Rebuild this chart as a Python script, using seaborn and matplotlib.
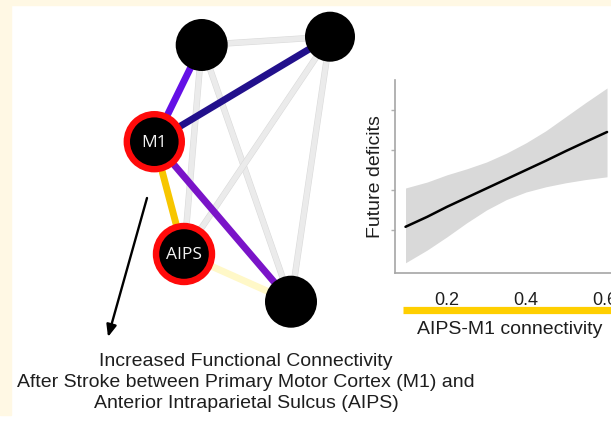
import matplotlib
matplotlib.use("Agg")
import matplotlib.pyplot as plt
import matplotlib.patheffects as pe
from matplotlib.patches import Circle, Rectangle
import seaborn as sns
import pandas as pd

# ---------------- data ----------------
conn = [0.095, 0.15, 0.2, 0.25, 0.3, 0.35, 0.4, 0.45, 0.5, 0.55, 0.605]
fit = [1.08, 1.33, 1.58, 1.81, 2.04, 2.27, 2.50, 2.73, 2.97, 3.20, 3.45]
ci_low = [0.18, 0.50, 0.83, 1.18, 1.50, 1.76, 1.95, 2.08, 2.18, 2.26, 2.33]
ci_high = [2.05, 2.20, 2.38, 2.53, 2.70, 2.92, 3.18, 3.48, 3.83, 4.18, 4.55]
xticks = [0.2, 0.4, 0.6]
xtick_labels = ["0.2", "0.4", "0.6"]
yticks = [1, 2, 3, 4]

node_names = ["N1", "N2", "M1", "AIPS", "N5"]
node_x = [201.7, 330.0, 154.3, 184.0, 291.0]
node_y = [45.0, 36.7, 141.7, 254.0, 301.7]
node_r = [26, 25, 30.5, 31, 26]
node_label = ["", "", "M1", "AIPS", ""]
node_ring = [False, False, True, True, False]

edge_src = ["N1", "N1", "N1", "N2", "N2", "N1", "M1", "M1", "M1", "AIPS"]
edge_dst = ["N2", "AIPS", "N5", "AIPS", "N5", "M1", "N2", "AIPS", "N5", "N5"]
edge_col = ["#ebebeb", "#ebebeb", "#ebebeb", "#ebebeb", "#ebebeb",
            "#6410e6", "#22108c", "#f7c600", "#7a14c8", "#fff8c8"]
edge_gray = [True, True, True, True, True, False, False, False, False, False]

caption = ["Increased Functional Connectivity",
           "After Stroke between Primary Motor Cortex (M1) and",
           "Anterior Intraparietal Sulcus (AIPS)"]

# ---------------- figure ----------------
sns.set_theme(style="white")
plt.rcParams["font.family"] = ["Liberation Sans", "DejaVu Sans"]

W, H = 611, 421
fig = plt.figure(figsize=(W / 100, H / 100), dpi=100, facecolor="white")

# overlay axes in pixel coordinates
bg = fig.add_axes([0, 0, 1, 1])
bg.set_xlim(0, W)
bg.set_ylim(H, 0)
bg.axis("off")
bg.add_patch(Rectangle((0, 0), W, 5, color="#fff8e4", zorder=0))
bg.add_patch(Rectangle((0, 0), 11, 415, color="#fff8e4", zorder=0))

pos = {n: (x, y) for n, x, y in zip(node_names, node_x, node_y)}
for s, d, c, g in zip(edge_src, edge_dst, edge_col, edge_gray):
    (x0, y0), (x1, y1) = pos[s], pos[d]
    if g:
        bg.plot([x0, x1], [y0, y1], color=c, lw=3.8, solid_capstyle="butt", zorder=1,
                path_effects=[pe.Stroke(linewidth=4.6, foreground="#dadada"), pe.Normal()])
    else:
        bg.plot([x0, x1], [y0, y1], color=c, lw=5.0, solid_capstyle="butt", zorder=2)

for x, y, r, lab, ring in zip(node_x, node_y, node_r, node_label, node_ring):
    if ring:
        bg.add_patch(Circle((x, y), r - 3, facecolor="black", edgecolor="#ff0a0a",
                            lw=4.6, zorder=3))
    else:
        bg.add_patch(Circle((x, y), r, facecolor="black", edgecolor="none", zorder=3))
    if lab:
        bg.text(x, y + 1, lab, color="#f2f2f2", fontsize=12.5,
                family=["Open Sans", "DejaVu Sans"],
                ha="center", va="center", zorder=4)

bg.annotate("", xy=(108, 337), xytext=(147, 198),
            arrowprops=dict(arrowstyle="-|>,head_length=0.6,head_width=0.25",
                            color="black", lw=1.7, shrinkA=0, shrinkB=0))

for i, line in enumerate(caption):
    bg.text(246, 362 + i * 20.5, line, ha="center", va="center",
            fontsize=14, color="#1e1e1e")

# yellow bar under the x tick labels
bg.plot([403, W], [310, 310], color="#ffcf00", lw=5.2, solid_capstyle="butt")

# ---------------- regression panel ----------------
left, right, top, bottom = 395, 611, 80, 273
ax = fig.add_axes([left / W, 1 - bottom / H, (right - left) / W, (bottom - top) / H])
ax.patch.set_alpha(0)

df = pd.DataFrame({"conn": conn, "fit": fit, "lo": ci_low, "hi": ci_high})
ax.fill_between(df["conn"], df["lo"], df["hi"], color="#d9d9d9", lw=0)
sns.lineplot(data=df, x="conn", y="fit", color="black", lw=1.8, ax=ax)

ax.set_xlim(0.0684, 0.615)
ax.set_ylim(-0.075, 4.75)
ax.set_xticks(xticks)
ax.set_xticklabels(xtick_labels)
ax.set_yticks(yticks)
ax.set_yticklabels([])
for sp in ["top", "right"]:
    ax.spines[sp].set_visible(False)
for sp in ["left", "bottom"]:
    ax.spines[sp].set_color("#a6a6a6")
    ax.spines[sp].set_linewidth(1.2)
ax.tick_params(axis="y", left=True, length=3, width=1, color="#b0b0b0", direction="out")
ax.tick_params(axis="x", bottom=False, labelsize=13, labelcolor="#1e1e1e", pad=8)

ax.set_xlabel("AIPS-M1 connectivity", fontsize=14, color="#1e1e1e")
ax.xaxis.set_label_coords((510 - left) / (right - left), (bottom - 330) / (bottom - top))
ax.xaxis.label.set_va("center")
ax.set_ylabel("Future deficits", fontsize=14, color="#1e1e1e")
ax.yaxis.set_label_coords((375 - left) / (right - left), (bottom - 177) / (bottom - top))
ax.yaxis.label.set_va("center")

fig.savefig("out.png", dpi=100, facecolor="white")
